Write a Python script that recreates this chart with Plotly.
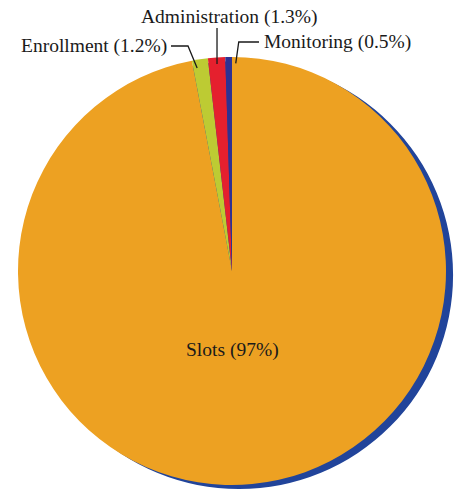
import math
import plotly.graph_objects as go

labels = ["Slots", "Enrollment", "Administration", "Monitoring"]
values = [97, 1.2, 1.3, 0.5]
colors = ["#EDA122", "#BDCB33", "#E5202E", "#2E3192"]
label_text = ["Slots (97%)", "Enrollment (1.2%)", "Administration (1.3%)", "Monitoring (0.5%)"]

W, H = 459, 489
CX, CY, R = 232, 271, 214
SX, SY = 239, 275
FONT = dict(family="Liberation Serif", size=19.5, color="#1a1a1a")

fig = go.Figure()
# shadow
fig.add_trace(go.Pie(
    values=[1], marker=dict(colors=["#21449A"], line=dict(width=0)),
    textinfo="none", hoverinfo="skip", showlegend=False, sort=False,
    domain=dict(x=[(SX - R) / W, (SX + R) / W], y=[(H - SY - R) / H, (H - SY + R) / H]),
))
fig.add_trace(go.Pie(
    labels=labels, values=values, marker=dict(colors=colors, line=dict(width=0)),
    textinfo="none", sort=False, direction="clockwise", rotation=0, showlegend=False,
    domain=dict(x=[(CX - R) / W, (CX + R) / W], y=[(H - CY - R) / H, (H - CY + R) / H]),
))

# slice mid angles (degrees clockwise from 12 o'clock)
total = sum(values)
mids = []
acc = 0
for v in values:
    mids.append((acc + v / 2) / total * 360)
    acc += v

def pt(angle, rr):
    a = math.radians(angle)
    return CX + rr * math.sin(a), CY - rr * math.cos(a)

def px(x, y):
    return x / W, 1 - y / H

shapes = []
annotations = []

# Slots label
annotations.append(dict(x=px(CX, 350)[0], y=px(CX, 350)[1], text=label_text[0],
                        showarrow=False, xanchor="center", yanchor="middle", font=FONT))

# Enrollment
ex, ey = pt(mids[1], R * 0.96)
p0 = px(171, 46); p1 = px(188, 46); p2 = px(ex - 4, ey)
shapes.append(dict(type="path", xref="paper", yref="paper",
                   path=f"M {p0[0]} {p0[1]} L {p1[0]} {p1[1]} L {p2[0]} {p2[1]}",
                   line=dict(color="#1a1a1a", width=1.3)))
annotations.append(dict(x=px(169, 46)[0], y=px(169, 46)[1], text=label_text[1],
                        showarrow=False, xanchor="right", yanchor="middle", font=FONT))

# Administration
ax, ay = pt(mids[2], R * 0.97)
p0 = px(ax, 28); p1 = px(ax, ay)
shapes.append(dict(type="path", xref="paper", yref="paper",
                   path=f"M {p0[0]} {p0[1]} L {p1[0]} {p1[1]}",
                   line=dict(color="#1a1a1a", width=1.3)))
annotations.append(dict(x=px(229, 17)[0], y=px(229, 17)[1], text=label_text[2],
                        showarrow=False, xanchor="center", yanchor="middle", font=FONT))

# Monitoring
mx, my = pt(mids[3], R * 0.97)
p0 = px(259, 42); p1 = px(mx + 10, 42); p2 = px(mx + 7, my)
shapes.append(dict(type="path", xref="paper", yref="paper",
                   path=f"M {p0[0]} {p0[1]} L {p1[0]} {p1[1]} L {p2[0]} {p2[1]}",
                   line=dict(color="#1a1a1a", width=1.3)))
annotations.append(dict(x=px(262, 42)[0], y=px(262, 42)[1], text=label_text[3],
                        showarrow=False, xanchor="left", yanchor="middle", font=FONT))

fig.update_layout(
    width=W, height=H, margin=dict(l=0, r=0, t=0, b=0),
    paper_bgcolor="white", plot_bgcolor="white",
    shapes=shapes, annotations=annotations, showlegend=False,
)
fig.write_html("out.html", config={"displayModeBar": False},
               post_script="document.body.style.margin='0';document.body.style.overflow='hidden';")
